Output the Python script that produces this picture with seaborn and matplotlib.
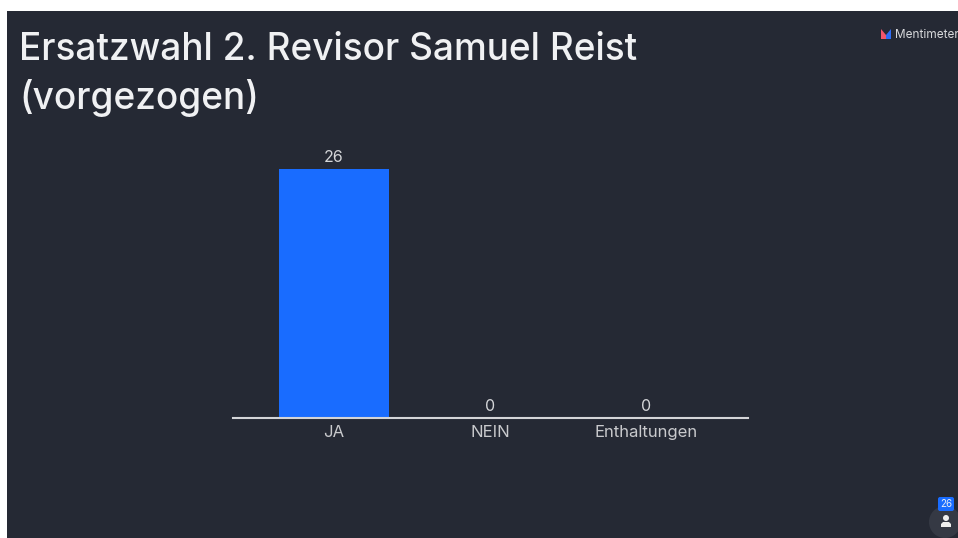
import matplotlib
matplotlib.use('Agg')
import matplotlib.pyplot as plt
import pandas as pd
import seaborn as sns
from matplotlib.patches import Circle, FancyBboxPatch, Polygon, Rectangle

antworten = ['JA', 'NEIN', 'Enthaltungen']
stimmen = [26, 0, 0]
titel = 'Ersatzwahl 2. Revisor Samuel Reist\n(vorgezogen)'
teilnehmer = '26'

W, H = 958, 538
DUNKEL = '#252934'
BLAU = '#196CFF'

sns.set_theme(style='white')
plt.rcParams['font.family'] = ['Inter', 'DejaVu Sans']

df = pd.DataFrame({'antwort': antworten, 'stimmen': stimmen})

fig = plt.figure(figsize=(W / 100, H / 100), dpi=100, facecolor='white')

# Pixel-Transform: Ursprung oben links
px = matplotlib.transforms.Affine2D().scale(1, -1).translate(0, H)

fig.add_artist(Rectangle((7, 11), W - 7, H - 11, transform=px, fc=DUNKEL, ec='none', zorder=-5))

ax = fig.add_axes([232.5 / W, 1 - 418 / H, 515.5 / W, (418 - 169) / H])
ax.patch.set_alpha(0)
sns.barplot(data=df, x='antwort', y='stimmen', color=BLAU, saturation=1, width=0.7, linewidth=0, ax=ax)
ax.set_xlim(-0.649, 2.649)
ax.set_ylim(0, 26)
ax.set_xlabel('')
ax.set_ylabel('')
ax.set_yticks([])
for s in ['top', 'left', 'right']:
    ax.spines[s].set_visible(False)
ax.spines['bottom'].set_color('#d4d5d8')
ax.spines['bottom'].set_linewidth(1.5)
ax.tick_params(axis='x', length=0, pad=5, labelsize=12, labelcolor='#c9cacd')
for c in ax.containers:
    ax.bar_label(c, padding=3, fontsize=11.5, color='#d4d5d8')

fig.text(19, 60, titel.split('\n')[0], transform=px, fontsize=26.6, fontweight='medium', color='#f0f1f3', va='baseline')
fig.text(19, 109, titel.split('\n')[1], transform=px, fontsize=26.6, fontweight='medium', color='#f0f1f3', va='baseline')

# Logo oben rechts
fig.add_artist(Polygon([(881, 39), (881, 29), (886, 35), (886, 39)], transform=px, fc='#f2556b', ec='none'))
fig.add_artist(Polygon([(886, 35), (891, 29), (891, 39), (886, 39)], transform=px, fc='#2f6cf5', ec='none'))
fig.text(895, 38, 'Mentimeter', transform=px, fontsize=8.5, color='#d8d9dc', va='baseline')

# Teilnehmer-Symbol unten rechts
fig.add_artist(Circle((945, 522), 16, transform=px, fc='#353944', ec='none'))
fig.add_artist(Circle((946, 518), 3, transform=px, fc='#eeeeee', ec='none'))
fig.add_artist(Polygon([(941, 527), (941, 524), (943, 522), (949, 522), (951, 524), (951, 527)], transform=px, fc='#eeeeee', ec='none'))
fig.add_artist(FancyBboxPatch((938, 497), 16, 14, boxstyle='round,pad=0,rounding_size=2', transform=px, fc='#196CFF', ec='none'))
fig.text(946, 504, teilnehmer, transform=px, fontsize=7, color='#e8ecf5', ha='center', va='center')

fig.savefig('out.png', dpi=100)
